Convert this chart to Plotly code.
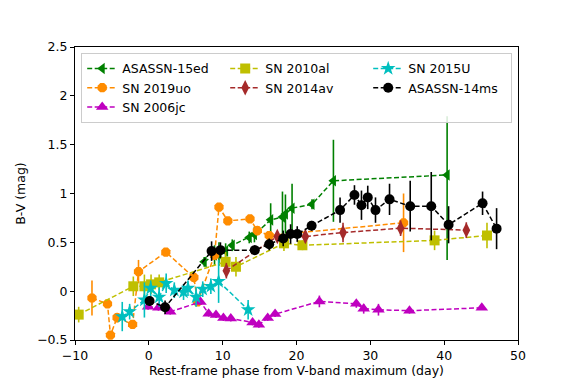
import plotly.graph_objects as go

# ASASSN-15ed
x_15ed = [7.5, 8.9, 9.5, 10.4, 11.3, 13.6, 14.3, 16.5, 18.1, 18.5, 19.4, 22.1, 25.0, 40.4]
y_15ed = [0.30, 0.37, 0.38, 0.41, 0.47, 0.55, 0.58, 0.73, 0.76, 0.79, 0.85, 0.89, 1.13, 1.19]
e_15ed = [0.05, 0.10, 0.12, 0.08, 0.06, 0.06, 0.08, 0.17, 0.26, 0.20, 0.25, 0.05, 0.42, 0.60]
em_15ed = [0.05, 0.10, 0.12, 0.08, 0.06, 0.06, 0.08, 0.17, 0.26, 0.20, 0.25, 0.05, 0.42, 0.87]

# SN 2019uo
x_19uo = [-7.7, -5.6, -5.2, -4.3, -2.2, -1.4, 2.3, 6.1, 6.6, 8.9, 9.5, 10.7, 13.7, 14.7, 16.3, 34.5]
y_19uo = [-0.07, -0.13, -0.45, -0.27, -0.34, 0.20, 0.40, 0.14, -0.11, 0.37, 0.86, 0.72, 0.74, 0.62, 0.57, 0.70]
e_19uo = [0.18, 0.04, 0.04, 0.05, 0.04, 0.12, 0.04, 0.05, 0.04, 0.05, 0.04, 0.04, 0.04, 0.05, 0.04, 0.30]

# SN 2006jc
x_06jc = [-0.1, 1.3, 2.9, 7.0, 8.1, 9.1, 10.1, 11.1, 14.05, 14.9, 16.1, 17.1, 23.1, 28.1, 29.1, 31.1, 35.3, 45.1]
y_06jc = [-0.16, -0.17, -0.21, -0.11, -0.23, -0.245, -0.275, -0.28, -0.32, -0.345, -0.275, -0.235,
          -0.105, -0.13, -0.18, -0.19, -0.20, -0.17]
e_06jc = [0.03, 0.03, 0.03, 0.03, 0.03, 0.03, 0.03, 0.03, 0.03, 0.03, 0.03, 0.03,
          0.06, 0.04, 0.05, 0.06, 0.03, 0.02]

# SN 2010al
x_10al = [-9.5, -2.1, -0.6, 0.3, 1.4, 10.4, 11.8, 18.3, 20.8, 38.7, 45.8]
y_10al = [-0.24, 0.05, 0.05, 0.07, 0.09, 0.30, 0.25, 0.49, 0.47, 0.52, 0.57]
e_10al = [0.08, 0.10, 0.12, 0.10, 0.08, 0.10, 0.10, 0.08, 0.05, 0.10, 0.13]

# SN 2014av
x_14av = [10.5, 17.4, 21.2, 26.3, 34.1, 43.0]
y_14av = [0.21, 0.56, 0.56, 0.60, 0.645, 0.625]
e_14av = [0.08, 0.04, 0.06, 0.10, 0.08, 0.08]

# SN 2015U
x_15U = [-3.6, -2.6, -0.6, 0.25, 1.4, 2.35, 3.45, 4.7, 5.3, 6.4, 7.3, 8.4, 9.45, 13.45]
y_15U = [-0.26, -0.21, -0.09, 0.03, -0.06, 0.08, 0.01, -0.01, 0.03, -0.06, 0.02, 0.05, 0.10, -0.19]
e_15U = [0.15, 0.08, 0.18, 0.08, 0.10, 0.10, 0.08, 0.08, 0.08, 0.10, 0.08, 0.08, 0.22, 0.10]

# ASASSN-14ms
x_14ms = [0.1, 2.2, 8.5, 9.7, 14.35, 16.3, 18.2, 19.2, 20.1, 22.05, 25.9, 27.85, 28.8, 29.65,
          30.7, 32.6, 35.4, 38.25, 40.6, 45.2, 47.1]
y_14ms = [-0.10, -0.165, 0.41, 0.42, 0.42, 0.48, 0.54, 0.585, 0.585, 0.67, 0.83, 0.985, 0.88, 0.96,
          0.83, 0.94, 0.87, 0.87, 0.68, 0.90, 0.64]
e_14ms = [0.05, 0.07, 0.10, 0.08, 0.05, 0.06, 0.08, 0.10, 0.08, 0.05, 0.13, 0.10, 0.15, 0.12,
          0.13, 0.16, 0.26, 0.35, 0.19, 0.12, 0.21]

series = [
    ("ASASSN-15ed", x_15ed, y_15ed, e_15ed, em_15ed, "#008000", "triangle-left", 10, 1),
    ("SN 2019uo", x_19uo, y_19uo, e_19uo, e_19uo, "#ff8c00", "octagon", 10, 4),
    ("SN 2006jc", x_06jc, y_06jc, e_06jc, e_06jc, "#bf00bf", "triangle-up", 11, 7),
    ("SN 2010al", x_10al, y_10al, e_10al, e_10al, "#bfbf00", "square", 10, 2),
    ("SN 2014av", x_14av, y_14av, e_14av, e_14av, "#a52a2a", "diamond-tall", 11, 5),
    ("SN 2015U", x_15U, y_15U, e_15U, e_15U, "#00bfbf", "star", 11, 3),
    ("ASASSN-14ms", x_14ms, y_14ms, e_14ms, e_14ms, "#000000", "circle", 10, 6),
]

fig = go.Figure()
for name, xs, ys, ep, em, col, sym, sz, rank in series:
    fig.add_trace(go.Scatter(
        x=xs, y=ys, name=name, mode="lines+markers", legendrank=rank,
        line=dict(color=col, width=1.5, dash="5px,2.5px"),
        marker=dict(color=col, symbol=sym, size=sz, line=dict(width=0)),
        error_y=dict(type="data", array=ep, arrayminus=em, color=col, thickness=1.6, width=0),
    ))

axis_style = dict(showline=True, linecolor="black", linewidth=1, mirror=True,
                  ticks="outside", ticklen=4, tickcolor="black", showgrid=False,
                  zeroline=False, tickfont=dict(size=12.5, color="black"))

fig.update_xaxes(range=[-10, 50], dtick=10, tick0=-10,
                 title=dict(text="Rest-frame phase from V-band maximum (day)", standoff=4,
                            font=dict(size=12.5, color="black")), **axis_style)
fig.update_yaxes(range=[-0.5, 2.5], dtick=0.5, tick0=-0.5,
                 title=dict(text="B-V (mag)", standoff=8, font=dict(size=12.5, color="black")),
                 **axis_style)

# the page adds 8px of body margin, so the margins are shifted to compensate
fig.update_layout(
    width=581, height=388,
    margin=dict(l=65, r=71, t=39, b=56),
    paper_bgcolor="white", plot_bgcolor="white",
    font=dict(family="DejaVu Sans", size=12.5, color="black"),
    legend=dict(orientation="h", x=0.014, y=0.98, xanchor="left", yanchor="top",
                entrywidth=98, entrywidthmode="pixels",
                bgcolor="rgba(255,255,255,0.85)", bordercolor="#cccccc", borderwidth=1,
                font=dict(size=12.5), itemwidth=30, tracegroupgap=0),
    showlegend=True,
)

fig.write_html("out.html")
